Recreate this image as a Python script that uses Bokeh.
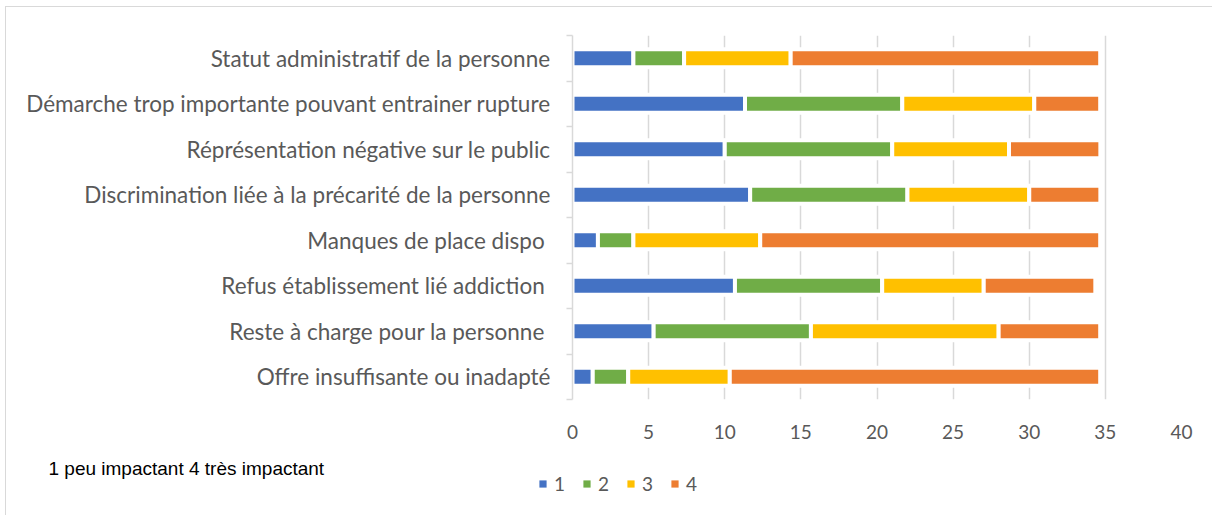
from bokeh.plotting import figure
from bokeh.layouts import column
from bokeh.models import (ColumnDataSource, FixedTicker, Legend, LegendItem, Label)
from bokeh.embed import file_html
from bokeh.resources import INLINE

# ---- data (top to bottom as displayed) ----
categories = [
    "Statut administratif de la personne",
    "Démarche trop importante pouvant entrainer rupture",
    "Réprésentation négative sur le public",
    "Discrimination liée à la précarité de la personne",
    "Manques de place dispo ",
    "Refus établissement lié addiction ",
    "Reste à charge pour la personne ",
    "Offre insuffisante ou inadapté",
]
series_names = ["1", "2", "3", "4"]
v1 = [4.00, 11.33, 10.00, 11.67, 1.67, 10.67, 5.33, 1.33]
v2 = [3.33, 10.33, 11.00, 10.33, 2.33, 9.67, 10.33, 2.33]
v3 = [7.00, 8.67, 7.67, 8.00, 8.33, 6.67, 12.33, 6.67]
v4 = [20.33, 4.33, 6.00, 4.67, 22.33, 7.33, 6.67, 24.33]
colors = ["#4472C4", "#70AD47", "#FFC000", "#ED7D31"]
x_ticks = [0, 5, 10, 15, 20, 25, 30, 35, 40]
note = "1 peu impactant 4 très impactant"

GRAY = "#595959"
LIGHT = "#d9d9d9"
FONT = "Lato"

n = len(categories)
ypos = [n - i for i in range(n)]  # top category at highest y

W = 1206
H1 = 442
p = figure(width=W, height=H1, output_backend="svg", toolbar_location=None,
           x_range=(0, 40), y_range=(0.5, n + 0.5),
           min_border_left=566, min_border_right=W - 566 - 609,
           min_border_top=28, min_border_bottom=H1 - 28 - 364)
p.outline_line_color = None
p.background_fill_color = "white"
p.border_fill_color = "white"

# stacked bars
series = [v1, v2, v3, v4]
sources = []
left = [0.0] * n
for vals, col in zip(series, colors):
    right = [l + v for l, v in zip(left, vals)]
    src = ColumnDataSource(dict(y=ypos, left=left, right=right))
    sources.append(src)
    p.hbar(y="y", left="left", right="right", height=0.4, source=src,
           fill_color=col, line_color="white", line_width=4)
    left = right

# x axis
p.xaxis.ticker = FixedTicker(ticks=x_ticks)
p.xaxis.axis_line_color = None
p.xaxis.major_tick_line_color = None
p.xaxis.minor_tick_line_color = None
p.xaxis.major_label_text_color = GRAY
p.xaxis.major_label_text_font = FONT
p.xaxis.major_label_text_font_size = "19px"
p.xaxis.major_label_standoff = 19
p.xgrid.ticker = FixedTicker(ticks=x_ticks)
p.xgrid.grid_line_color = LIGHT
p.xgrid.grid_line_width = 1.5
p.ygrid.grid_line_color = None

# y axis: labels at centers, small ticks at band boundaries
bounds = [k + 0.5 for k in range(n + 1)]
p.yaxis.ticker = FixedTicker(ticks=ypos, minor_ticks=bounds)
p.yaxis.major_label_overrides = {y: c for y, c in zip(ypos, categories)}
p.yaxis.major_tick_out = 0
p.yaxis.major_tick_in = 0
p.yaxis.minor_tick_out = 6
p.yaxis.minor_tick_in = 0
p.yaxis.minor_tick_line_color = LIGHT
p.yaxis.minor_tick_line_width = 1.5
p.yaxis.axis_line_color = LIGHT
p.yaxis.axis_line_width = 1.5
p.yaxis.major_label_text_color = GRAY
p.yaxis.major_label_text_font = FONT
p.yaxis.major_label_text_font_size = "22.5px"
p.yaxis.major_label_standoff = 16

# footer figure: note + legend
H2 = 66
f2 = figure(width=W, height=H2, output_backend="svg", toolbar_location=None,
            x_range=(0, 1), y_range=(0, 1),
            min_border_left=0, min_border_right=0, min_border_top=0, min_border_bottom=0)
f2.axis.visible = False
f2.grid.visible = False
f2.outline_line_color = None

if "frame_align" in p.properties():
    p.frame_align = False
    f2.frame_align = False

items = []
for name, col, src in zip(series_names, colors, sources):
    r = f2.hbar(y="y", left="left", right="right", height=0.4, source=src,
                fill_color=col, line_color=None, visible=False)
    items.append(LegendItem(label=name, renderers=[r]))

legend = Legend(items=items, orientation="horizontal", location=(532, 20),
                glyph_width=9, glyph_height=9, label_standoff=7, spacing=17,
                label_width=10, padding=0, margin=0, border_line_color=None,
                background_fill_alpha=0, inactive_fill_alpha=0,
                label_text_color=GRAY, label_text_font=FONT,
                label_text_font_size="19px", label_height=20)
f2.add_layout(legend, "center")

f2.add_layout(Label(x=42, y=H2 - 19, x_units="screen", y_units="screen",
                    text=note, text_font="Liberation Sans", text_font_size="19px",
                    text_color="black", text_baseline="middle", text_align="left"))

layout = column(p, f2, spacing=0,
                styles={"margin-left": "5px", "margin-top": "6px",
                        "border-left": "1px solid #d9d9d9",
                        "border-top": "1px solid #d9d9d9"})

open("out.html", "w").write(file_html(layout, INLINE))
